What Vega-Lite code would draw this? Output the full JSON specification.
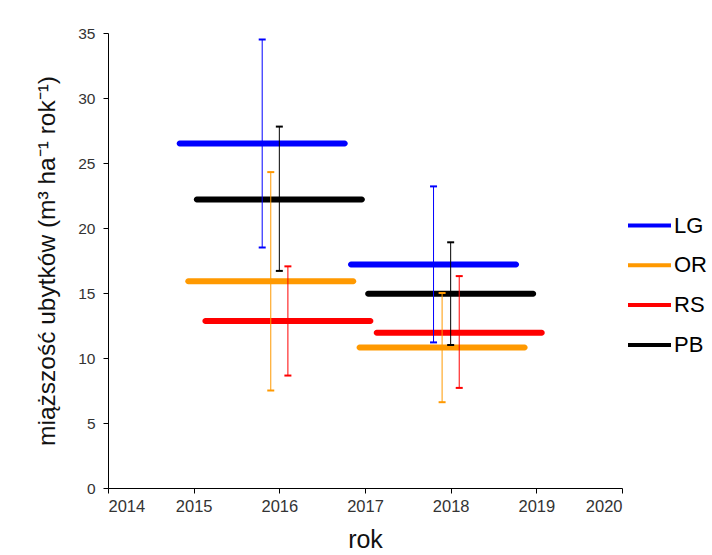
{
  "$schema": "https://vega.github.io/schema/vega-lite/v6.json",
  "width": 514,
  "height": 455,
  "autosize": {"type": "none"},
  "padding": {"left": 108, "top": 33, "right": 90, "bottom": 67},
  "background": "white",
  "data": {
    "values": [
      {"seria": "LG", "rok": 2016, "poz": 2015.8, "srednia": 26.5, "min": 18.5, "max": 34.5},
      {"seria": "OR", "rok": 2016, "poz": 2015.9, "srednia": 15.9, "min": 7.5, "max": 24.3},
      {"seria": "RS", "rok": 2016, "poz": 2016.1, "srednia": 12.85, "min": 8.65, "max": 17.05},
      {"seria": "PB", "rok": 2016, "poz": 2016.0, "srednia": 22.2, "min": 16.7, "max": 27.8},
      {"seria": "LG", "rok": 2018, "poz": 2017.8, "srednia": 17.2, "min": 11.2, "max": 23.2},
      {"seria": "OR", "rok": 2018, "poz": 2017.9, "srednia": 10.8, "min": 6.6, "max": 15.0},
      {"seria": "RS", "rok": 2018, "poz": 2018.1, "srednia": 11.95, "min": 7.7, "max": 16.3},
      {"seria": "PB", "rok": 2018, "poz": 2018.0, "srednia": 14.95, "min": 11.0, "max": 18.9}
    ]
  },
  "encoding": {
    "x": {
      "field": "poz", "type": "quantitative",
      "scale": {"domain": [2014, 2020], "nice": false, "zero": false},
      "axis": {"title": "rok", "values": [2014, 2015, 2016, 2017, 2018, 2019, 2020], "format": "d", "labelFontSize": 16.5, "labelPadding": 5, "titlePadding": 13, "titleFontSize": 25}
    },
    "color": {
      "field": "seria", "type": "nominal",
      "scale": {"domain": ["LG", "OR", "RS", "PB"], "range": ["#0000ff", "#ff9900", "#ff0000", "#000000"]},
      "legend": {
        "title": null, "orient": "none", "legendX": 518, "legendY": 169,
        "symbolType": "stroke", "symbolSize": 1849, "symbolStrokeWidth": 4,
        "labelFontSize": 22, "labelFont": "Liberation Sans", "labelColor": "#000",
        "labelOffset": 1, "rowPadding": 4.8
      }
    }
  },
  "layer": [
    {
      "mark": {"type": "tick", "orient": "horizontal", "size": 171, "thickness": 6, "cornerRadius": 3, "opacity": 1},
      "encoding": {
        "y": {
          "field": "srednia", "type": "quantitative",
          "scale": {"domain": [0, 35], "nice": false},
          "axis": {"title": "miąższość ubytków (m³ ha⁻¹ rok⁻¹)", "values": [0, 5, 10, 15, 20, 25, 30, 35], "labelFontSize": 15.5, "labelPadding": 8, "titlePadding": 18, "titleFontSize": 24.5}
        }
      }
    },
    {
      "mark": {"type": "rule", "strokeWidth": 1},
      "encoding": {
        "y": {"field": "min", "type": "quantitative"},
        "y2": {"field": "max"}
      }
    },
    {
      "mark": {"type": "tick", "orient": "horizontal", "size": 7, "thickness": 2, "opacity": 1},
      "encoding": {"y": {"field": "min", "type": "quantitative"}}
    },
    {
      "mark": {"type": "tick", "orient": "horizontal", "size": 7, "thickness": 2, "opacity": 1},
      "encoding": {"y": {"field": "max", "type": "quantitative"}}
    }
  ],
  "config": {
    "view": {"stroke": null},
    "axis": {
      "grid": false,
      "domainColor": "#000",
      "tickColor": "#000",
      "tickSize": 5,
      "labelFont": "Liberation Sans",
      "labelColor": "#333",
      "titleFont": "Liberation Sans",
      "titleFontWeight": "normal",
      "titleColor": "#111"
    }
  }
}
